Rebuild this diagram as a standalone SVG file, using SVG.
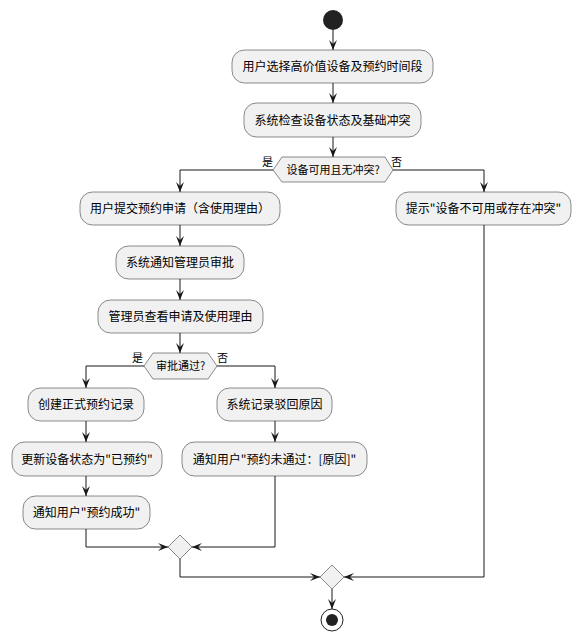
<svg xmlns="http://www.w3.org/2000/svg" width="581" height="641" viewBox="0 0 581 641">
<defs>
<marker id="arr" viewBox="0 0 10 8" refX="10" refY="4" markerWidth="10" markerHeight="8" markerUnits="userSpaceOnUse" orient="auto">
<polygon points="0,0 10,4 0,8 4,4" fill="#181818"/>
</marker>
<style>
.box{fill:#F1F1F1;stroke:#181818;stroke-width:0.5}
.t{font-family:"Noto Sans CJK SC","Noto Sans",sans-serif;font-size:12px;fill:#000;text-anchor:middle}
.l{font-family:"Noto Sans CJK SC","Noto Sans",sans-serif;font-size:11px;fill:#000}
.c{fill:none;stroke:#181818;stroke-width:1;marker-end:url(#arr)}
</style>
</defs>
<rect width="581" height="641" fill="#FFFFFF"/>
<g id="start"><circle cx="333" cy="20" r="10" fill="#222222"/></g>
<g id="n1"><rect class="box" x="232" y="50" width="201" height="33" rx="12.5"/><text class="t" x="332.5" y="71">用户选择高价值设备及预约时间段</text></g>
<g id="n2"><rect class="box" x="244" y="103" width="177" height="34" rx="12.5"/><text class="t" x="332.5" y="124.5">系统检查设备状态及基础冲突</text></g>
<g id="d1"><polygon class="box" points="273,170 282,157 385,157 393,170 385,182 282,182"/><text class="l" x="333" y="174" text-anchor="middle">设备可用且无冲突?</text><text class="l" x="262" y="166">是</text><text class="l" x="391" y="166">否</text></g>
<g id="n3"><rect class="box" x="80" y="192" width="200" height="33" rx="12.5"/><text class="t" x="180" y="213">用户提交预约申请（含使用理由）</text></g>
<g id="n4"><rect class="box" x="116" y="246" width="128" height="33" rx="12.5"/><text class="t" x="180" y="267">系统通知管理员审批</text></g>
<g id="n5"><rect class="box" x="98" y="300" width="165" height="33" rx="12.5"/><text class="t" x="180.5" y="321">管理员查看申请及使用理由</text></g>
<g id="n6"><rect class="box" x="396" y="192" width="175" height="33" rx="12.5"/><text class="t" x="483.5" y="213">提示"设备不可用或存在冲突"</text></g>
<g id="d2"><polygon class="box" points="144,366 153,353 208,353 217,366 208,379 153,379"/><text class="l" x="180.5" y="370" text-anchor="middle">审批通过?</text><text class="l" x="132" y="362">是</text><text class="l" x="217" y="362">否</text></g>
<g id="n7"><rect class="box" x="28" y="388" width="116" height="33" rx="12.5"/><text class="t" x="86" y="409">创建正式预约记录</text></g>
<g id="n8"><rect class="box" x="12" y="442" width="150" height="34" rx="12.5"/><text class="t" x="87" y="463.5">更新设备状态为"已预约"</text></g>
<g id="n9"><rect class="box" x="23" y="496" width="127" height="33" rx="12.5"/><text class="t" x="86.5" y="517">通知用户"预约成功"</text></g>
<g id="n10"><rect class="box" x="217" y="388" width="115" height="33" rx="12.5"/><text class="t" x="274.5" y="409">系统记录驳回原因</text></g>
<g id="n11"><rect class="box" x="182" y="442" width="185" height="34" rx="12.5"/><text class="t" x="274.5" y="463.5">通知用户"预约未通过：[原因]"</text></g>
<g id="m1"><polygon class="box" points="180,535 192,547 180,559 168,547"/></g>
<g id="m2"><polygon class="box" points="332,565 344,577 332,589 320,577"/></g>
<g id="end"><circle cx="332" cy="620" r="11" fill="none" stroke="#222222" stroke-width="1"/><circle cx="332" cy="620" r="6" fill="#222222"/></g>
<g id="connectors">
<path class="c" d="M333,30 V50"/>
<path class="c" d="M333,83 V103"/>
<path class="c" d="M333,137 V157"/>
<path class="c" d="M273,170 H180 V192"/>
<path class="c" d="M393,170 H484 V192"/>
<path class="c" d="M180,225 V246"/>
<path class="c" d="M180,279 V300"/>
<path class="c" d="M180,333 V353"/>
<path class="c" d="M144,366 H86 V388"/>
<path class="c" d="M217,366 H275 V388"/>
<path class="c" d="M86,421 V442"/>
<path class="c" d="M86,476 V496"/>
<path class="c" d="M275,421 V442"/>
<path class="c" d="M86,529 V547 H168"/>
<path class="c" d="M275,476 V547 H192"/>
<path class="c" d="M180,559 V577 H320"/>
<path class="c" d="M484,225 V577 H344"/>
<path class="c" d="M332,589 V609"/>
</g>
</svg>
